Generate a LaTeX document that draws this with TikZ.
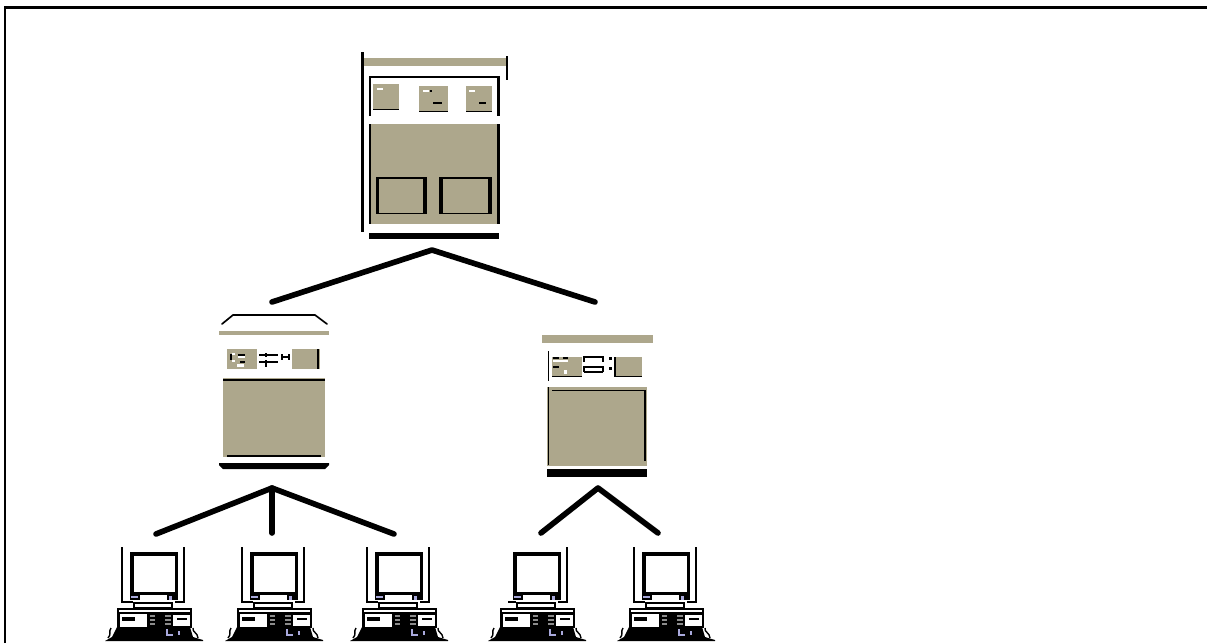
\documentclass[tikz,border=0pt]{standalone}
\usepackage{tikz}
\usetikzlibrary{calc}
\definecolor{cabinet}{HTML}{ADA78C}
\definecolor{keycap}{HTML}{A9A9DC}
\definecolor{slotgray}{HTML}{8C8C8C}
\tikzset{
    link/.style={line width=3.2pt, line cap=round, line join=round},
    rail/.style={line width=1.2pt},
    thinrule/.style={line width=0.95pt},
    pics/workstation/.style={code={
        % Monitor
        \fill[black] (130,552) rectangle (178,600);
        \fill[white] (133.5,556) rectangle (175,592);
        \fill[white] (140,595) rectangle (167,601);
        \fill[keycap] (131,596) rectangle (138,598);
        \fill[keycap] (169,596) rectangle (172,600);
        % Right rail and stand
        \draw[rail] (184,547) -- (184,602) -- (175,602);
        \draw[thinrule] (133,603) -- (173,603);
        \draw[thinrule] (133,608) -- (173,608);
        \draw[thinrule] (134,603) -- (134,608);
        \draw[thinrule] (172,603) -- (172,608);
        % Base unit
        \fill[black] (117,608) rectangle (192,628);
        \fill[white] (119,610) rectangle (190,612);
        \fill[white] (120,614) rectangle (147,627);
        \fill[black] (122,617) rectangle (135,621);
        \fill[white] (173,615) rectangle (190,626);
        \fill[black] (177,618) rectangle (187,620);
        \foreach \yy in {615,619,623} {
            \fill[slotgray] (150,\yy) rectangle (155,\yy+1.5);
            \fill[slotgray] (165,\yy) rectangle (171,\yy+1.5);
        }
        % Keyboard
        \fill[black] (117,627) -- (190,627) -- (193,637) -- (203,640) -- (203,641) -- (105,641) -- (112,637) -- cycle;
        \draw[keycap, line width=1pt] (167,629) -- (167,635) -- (173,635);
        \draw[keycap, line width=1pt] (179,631) -- (179,635);
        % Cables
        \draw[black, line width=0.8pt] (111,628) .. controls (108,632) and (112,634) .. (108,638);
        \draw[black, line width=0.8pt] (193,628) .. controls (192,632) and (198,633) .. (198,638);
    }}
}
\begin{document}
\begin{tikzpicture}[x=0.02cm, y=-0.02cm]
\useasboundingbox (0,0) rectangle (1207,643);

% Frame
\draw[line width=1.15pt] (5,643) -- (5,7.5) -- (1207,7.5);

% Top server
\fill[cabinet] (363,58) rectangle (506,66);
\draw[rail] (362.5,52) -- (362.5,232);
\draw[rail] (507,56) -- (507,80);
\draw[rail] (370,116) -- (370,77) -- (498.5,77) -- (498.5,116);
\fill[cabinet] (373,84) rectangle (399,110);
\fill[cabinet] (419,86) rectangle (448,112);
\fill[cabinet] (466,86) rectangle (492,112);
\foreach \x/\y in {373/108.5, 419/110.5, 466/110.5} {
    \fill[black] (\x,\y) rectangle ++(26,1.5);
}
\fill[black] (445,110.5) rectangle (448,112);
\fill[white] (377,88) rectangle (383,90);
\fill[white] (423,90) rectangle (429,92);
\fill[white] (469,90) rectangle (475,92);
\fill[black] (433,102) rectangle (442,104);
\fill[black] (479,102) rectangle (486,104);
\fill[black] (430,90) rectangle (431.5,92);
\fill[cabinet] (370,124) rectangle (499,224);
\draw[rail] (370,124) -- (370,224);
\draw[rail] (498.5,124) -- (498.5,224);
\fill[black] (376,177) rectangle (427,214);
\fill[cabinet] (379,179) rectangle (423,212.5);
\fill[black] (439,177) rectangle (492,214);
\fill[cabinet] (443,179) rectangle (488,212.5);
\fill[black] (369,233) rectangle (499,239);

% Left server
\draw[thinrule, line cap=round] (222,324) -- (233,315) -- (315,315) -- (327,324);
\fill[cabinet] (219,331) rectangle (329,335);
\fill[cabinet] (227,349) rectangle (257,369);
\fill[black] (230,354) rectangle (232,360);
\fill[white] (232,353) rectangle (235,355);
\fill[white] (232,360) rectangle (235,362);
\fill[black] (238,354) rectangle (245,356);
\fill[white] (238,356) rectangle (245,358);
\fill[black] (240,361) rectangle (245,363);
\fill[white] (237,364) rectangle (244,367);
\draw[thinrule] (259,355) -- (278,355);
\draw[thinrule] (259,362) -- (278,362);
\draw[thinrule] (266,353) -- (266,357);
\draw[thinrule] (266,360) -- (266,367);
\draw[thinrule] (282,354) -- (282,360);
\draw[thinrule] (289,354) -- (289,360);
\draw[thinrule] (282,357) -- (289,357);
\fill[cabinet] (292,349) rectangle (320,369);
\draw[thinrule] (318,349) -- (318,369);
\fill[cabinet] (223,378) rectangle (325,457);
\draw[thinrule] (223,380) -- (325,380);
\draw[thinrule] (227,456) -- (321,456);
\fill[black] (219,463) -- (329,463) -- (329,465) -- (325,469) -- (223,469) -- (219,465) -- cycle;

% Right server
\fill[cabinet] (542,335) rectangle (653,343);
\draw[thinrule] (548.5,351) -- (548.5,381);
\fill[cabinet] (552,357) rectangle (582,377);
\draw[thinrule] (552,376.5) -- (582,376.5);
\fill[black] (553,357) rectangle (559,359);
\fill[black] (563,357) rectangle (568,359);
\fill[white] (553,360) rectangle (568,362);
\fill[black] (553,366) rectangle (559,368);
\fill[white] (564,370) rectangle (567,374);
\draw[thinrule] (584,362) -- (584,357) -- (603,357) -- (603,362);
\draw[thinrule] (584,372) -- (584,367) -- (603,367) -- (603,372);
\draw[thinrule] (584,372) -- (603,372);
\fill[black] (609,357) rectangle (612,359.5);
\fill[black] (609,367) rectangle (612,369.5);
\fill[cabinet] (615,357) rectangle (642,377);
\draw[thinrule] (615,357) -- (615,376.5) -- (642,376.5);
\fill[cabinet] (547,387) rectangle (647,466);
\draw[thinrule] (548.5,387) -- (548.5,465);
\draw[thinrule] (552,390.5) -- (645,390.5) -- (645,461);
\fill[black] (547,469) rectangle (647,477);

% Workstations
\foreach \x in {0,120,245,383,512} {
    \pic at (\x,0) {workstation};
}
% Left rails (none on the fourth)
\foreach \x in {0,120,245,512} {
    \draw[rail] (\x+122,547) -- (\x+122,602) -- (\x+133,602);
}
\draw[thinrule] (508,602) -- (516,602);

% Connection points
\coordinate (topHub) at (432,250);
\coordinate (leftServer) at (272,302);
\coordinate (rightServer) at (595,302);
\coordinate (leftHub) at (272,488);
\coordinate (rightHub) at (598,488);
\coordinate (pcA) at (156,534);
\coordinate (pcB) at (272,533);
\coordinate (pcC) at (394,534);
\coordinate (pcD) at (541,533);
\coordinate (pcE) at (658,533);

% Connectors
\draw[link] (leftServer) -- (topHub) -- (rightServer);
\draw[link] (pcA) -- (leftHub) -- (pcC);
\draw[link] (leftHub) -- (pcB);
\draw[link] (pcD) -- (rightHub) -- (pcE);

\end{tikzpicture}
\end{document}
